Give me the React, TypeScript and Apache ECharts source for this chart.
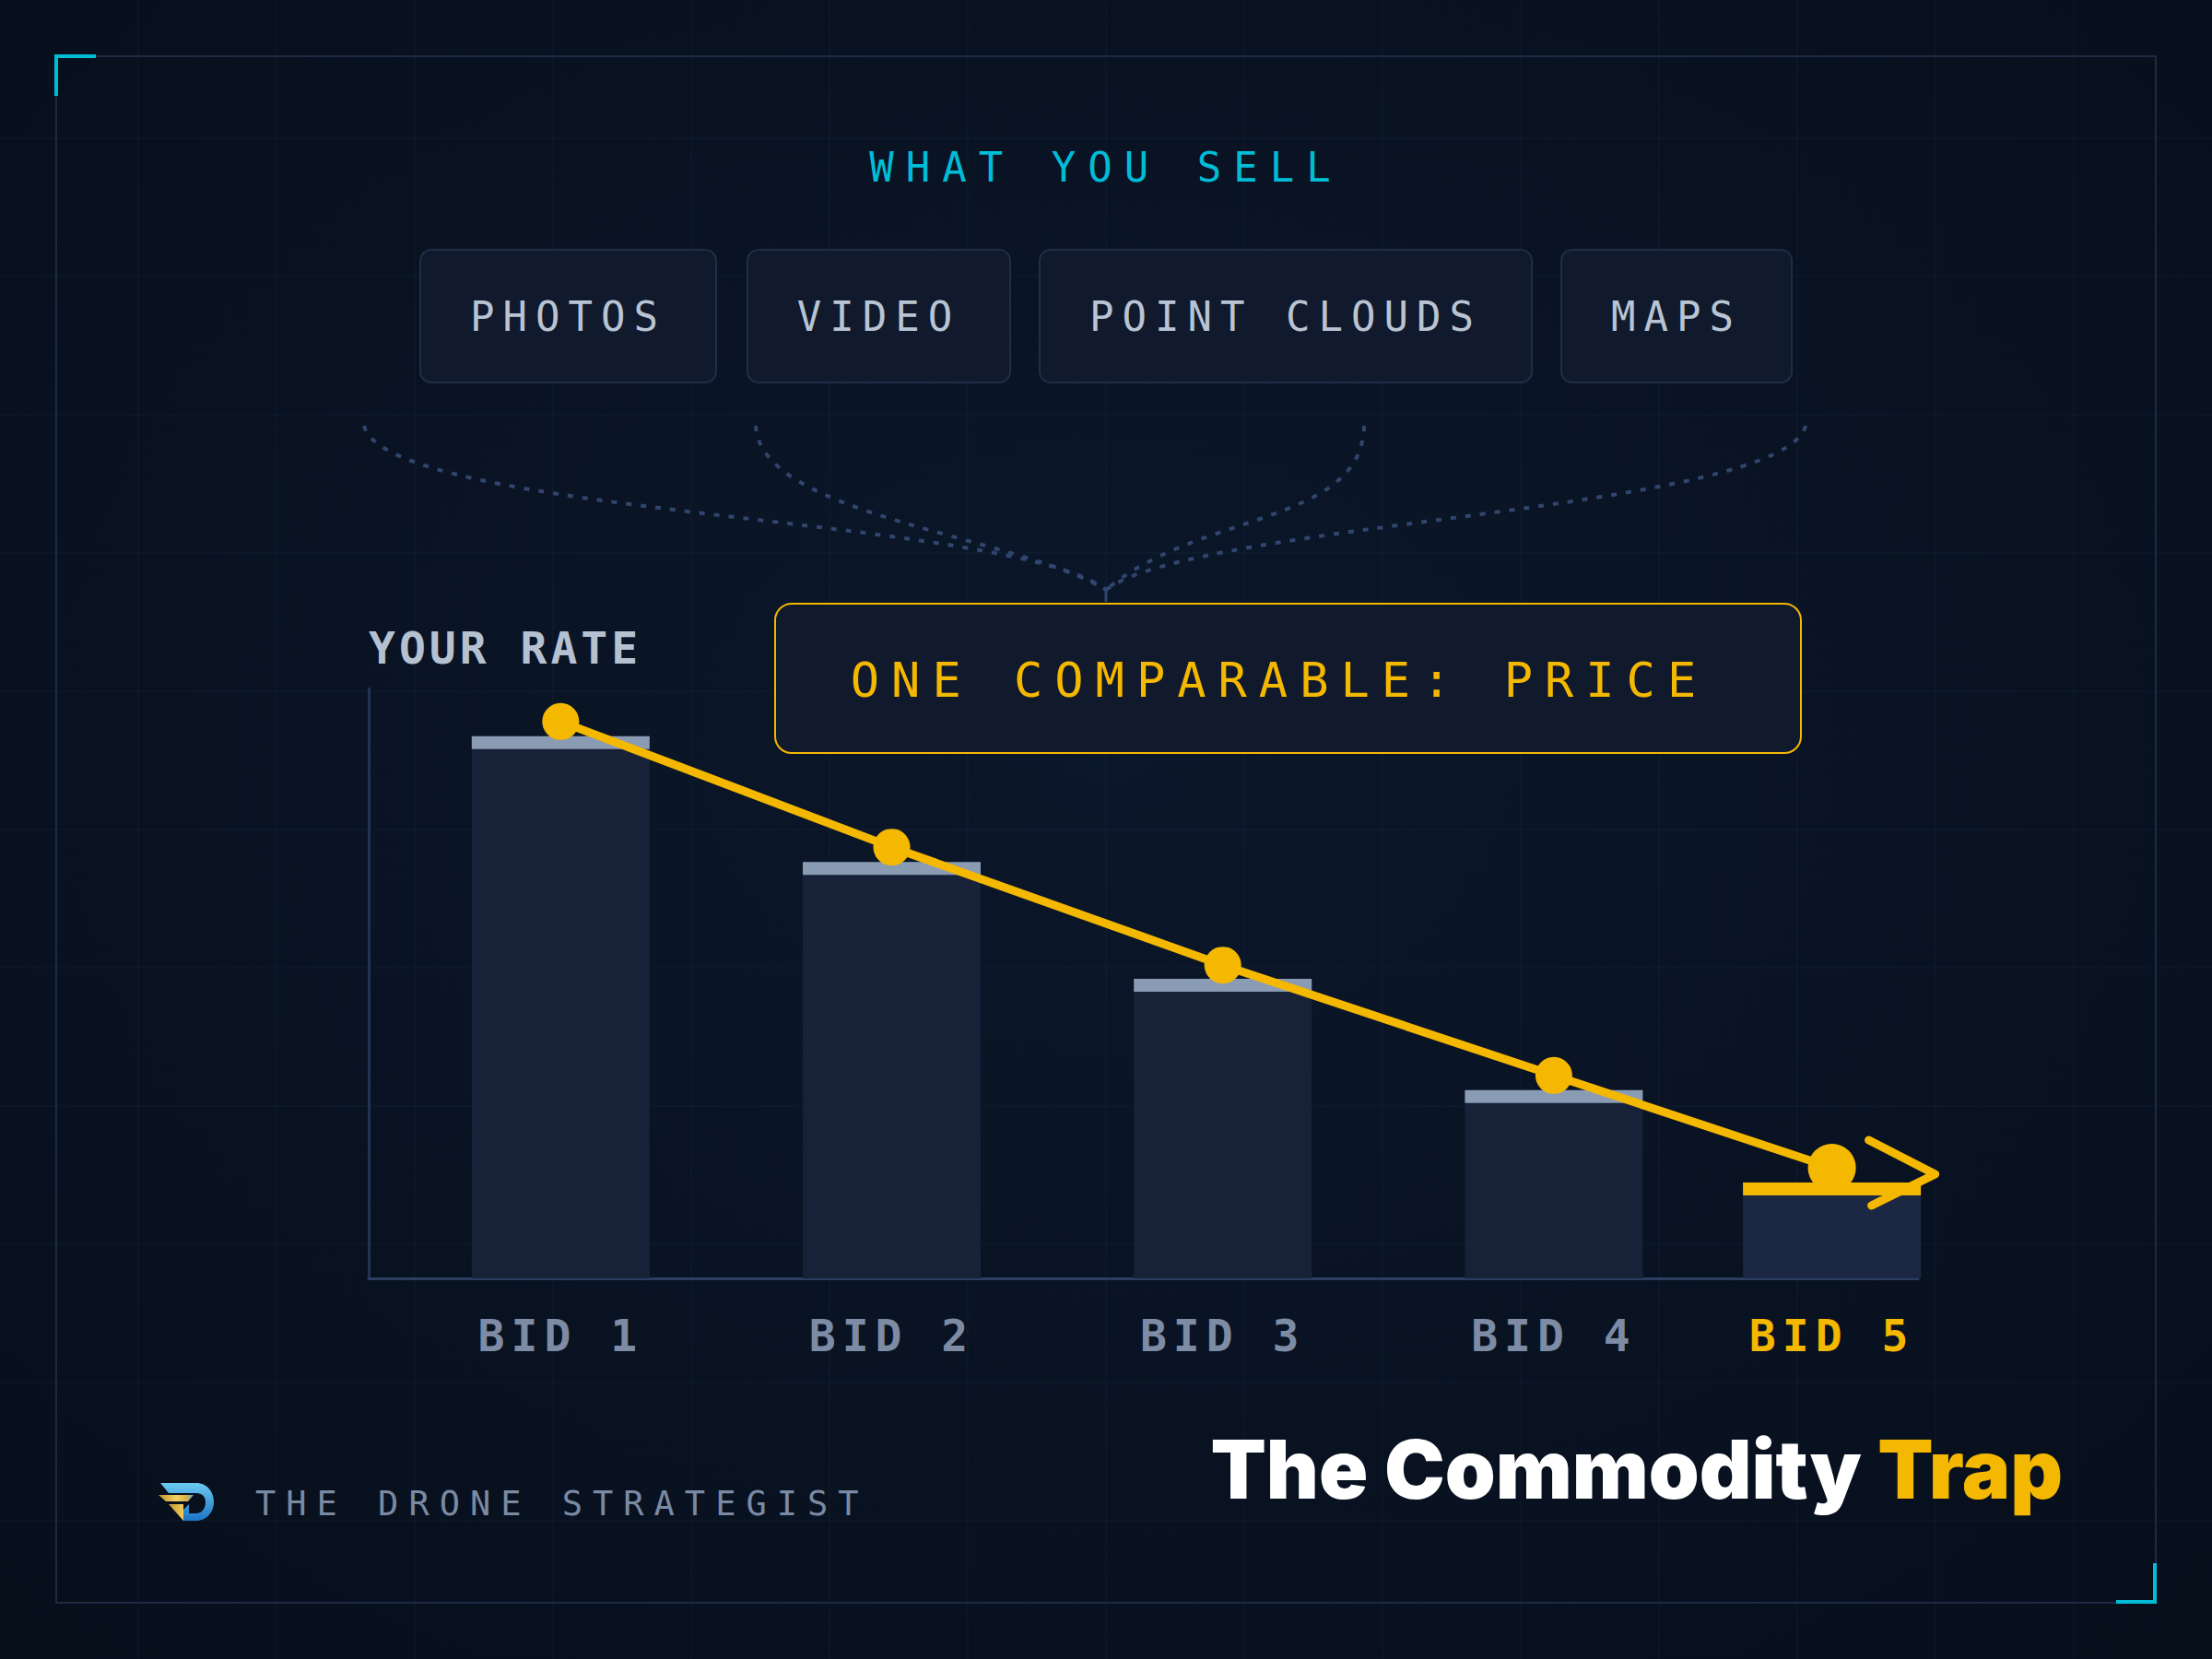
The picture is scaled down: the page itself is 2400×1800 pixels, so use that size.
import React, { useEffect, useRef } from "react";
import * as echarts from "echarts";

// ---------- data ----------
const bidLabels = ["BID 1", "BID 2", "BID 3", "BID 4", "BID 5"];
const bidSlots = [1, 2, 3, 4, 4.84];
const rateValues = [91.9, 70.6, 50.8, 31.9, 16.25];
const trendValues = [94.4, 73.1, 53.1, 34.4, 18.75];
const sellItems = ["PHOTOS", "VIDEO", "POINT CLOUDS", "MAPS"];
const headline = "WHAT YOU SELL";
const comparableLabel = "ONE COMPARABLE: PRICE";
const yAxisLabel = "YOUR RATE";
const brandName = "THE DRONE STRATEGIST";
const titleMain = "The Commodity";
const titleAccent = "Trap";

const MONO = '"DejaVu Sans Mono", monospace';
const YELLOW = "#f5b800";
const CYAN = "#00bcd6";

const letterSpacing: Record<string, number> = {
  [headline]: 13,
  [comparableLabel]: 13,
  [yAxisLabel]: 4,
  [brandName]: 11,
};
sellItems.forEach((s) => (letterSpacing[s] = 9));
bidLabels.forEach((s) => (letterSpacing[s] = 7));

let registered = false;
function registerLogo() {
  if (registered) return;
  registered = true;
  echarts.graphic.registerShape(
    "logoD",
    echarts.graphic.extendPath(
      "M2 0 L41 0 C52 0 60 9 60 20.5 C60 32 52 41 41 41 L27 41 L27 29 L33 23 L33 33 L41 33 C47 33 51 27.5 51 21 C51 14.5 47 11 41 11 L11 11 Z",
      {}
    )
  );
}

export default function App() {
  const ref = useRef<HTMLDivElement>(null);

  useEffect(() => {
    document.body.style.margin = "0";
    registerLogo();
    const el = ref.current!;
    const chart = echarts.init(el, null, { renderer: "svg" });

    const W = 2400;
    const H = 1800;
    const elements: any[] = [];

    // background
    elements.push({
      type: "rect",
      silent: true,
      shape: { x: 0, y: 0, width: W, height: H },
      style: {
        fill: new echarts.graphic.RadialGradient(0.5, 0.45, 0.8, [
          { offset: 0, color: "#0b172a" },
          { offset: 1, color: "#070e1a" },
        ]),
      },
    });
    // faint grid
    for (let x = 150; x < W; x += 150) {
      elements.push({
        type: "line",
        silent: true,
        shape: { x1: x, y1: 0, x2: x, y2: H },
        style: { stroke: "rgba(90,130,190,0.04)", lineWidth: 2 },
      });
    }
    for (let y = 150; y < H; y += 150) {
      elements.push({
        type: "line",
        silent: true,
        shape: { x1: 0, y1: y, x2: W, y2: y },
        style: { stroke: "rgba(90,130,190,0.04)", lineWidth: 2 },
      });
    }
    // frame
    elements.push({
      type: "rect",
      silent: true,
      shape: { x: 61, y: 61, width: 2278, height: 1678 },
      style: { fill: "none", stroke: "#1d2a43", lineWidth: 2 },
    });
    elements.push({
      type: "polyline",
      silent: true,
      shape: { points: [[61, 104], [61, 61], [104, 61]] },
      style: { stroke: CYAN, lineWidth: 4, fill: "none" },
    });
    elements.push({
      type: "polyline",
      silent: true,
      shape: { points: [[2338, 1696], [2338, 1738], [2296, 1738]] },
      style: { stroke: CYAN, lineWidth: 4, fill: "none" },
    });

    // headline
    elements.push({
      type: "text",
      silent: true,
      style: {
        text: headline,
        x: 1200,
        y: 181,
        fill: CYAN,
        fontFamily: MONO,
        fontSize: 44,
        align: "center",
        verticalAlign: "middle",
        textAlign: "center",
        textVerticalAlign: "middle",
      },
    });

    // chips
    const chipBoxes = [
      [456, 777],
      [811, 1096],
      [1128, 1662],
      [1694, 1944],
    ];
    sellItems.forEach((label, i) => {
      const [x0, x1] = chipBoxes[i];
      elements.push({
        type: "rect",
        silent: true,
        shape: { x: x0, y: 271, width: x1 - x0, height: 144, r: 12 },
        style: { fill: "#111a2c", stroke: "#1f2d47", lineWidth: 2 },
      });
      elements.push({
        type: "text",
        silent: true,
        style: {
          text: label,
          x: (x0 + x1) / 2,
          y: 343,
          fill: "#b8c4d4",
          fontFamily: MONO,
          fontSize: 44,
          align: "center",
          verticalAlign: "middle",
          textAlign: "center",
          textVerticalAlign: "middle",
        },
      });
    });

    // dotted converging curves
    const curves = [
      [395, 462, 420, 560, 1100, 560],
      [820, 462, 825, 560, 1100, 580],
      [1480, 462, 1478, 570, 1300, 555],
      [1959, 462, 1935, 555, 1300, 565],
    ];
    curves.forEach((c) => {
      elements.push({
        type: "bezierCurve",
        silent: true,
        shape: {
          x1: c[0],
          y1: c[1],
          cpx1: c[2],
          cpy1: c[3],
          cpx2: c[4],
          cpy2: c[5],
          x2: 1200,
          y2: 640,
        },
        style: { stroke: "#30466d", lineWidth: 4, lineDash: [6, 10], fill: "none" },
      });
    });
    elements.push({
      type: "line",
      silent: true,
      shape: { x1: 1200, y1: 640, x2: 1200, y2: 653 },
      style: { stroke: "#30466d", lineWidth: 3 },
    });

    // comparable box
    elements.push({
      type: "rect",
      silent: true,
      shape: { x: 841, y: 655, width: 1113, height: 162, r: 18 },
      style: { fill: "#111a2c", stroke: YELLOW, lineWidth: 2 },
    });
    elements.push({
      type: "text",
      silent: true,
      style: {
        text: comparableLabel,
        x: 1388,
        y: 738,
        fill: YELLOW,
        fontFamily: MONO,
        fontSize: 52,
        align: "center",
        verticalAlign: "middle",
        textAlign: "center",
        textVerticalAlign: "middle",
      },
    });

    // y label
    elements.push({
      type: "text",
      silent: true,
      style: {
        text: yAxisLabel,
        x: 400,
        y: 703,
        fill: "#b5c1d1",
        fontFamily: MONO,
        fontSize: 48,
        fontWeight: "bold",
        align: "left",
        verticalAlign: "middle",
        textAlign: "left",
        textVerticalAlign: "middle",
      },
    });

    // logo
    elements.push({
      type: "logoD",
      silent: true,
      x: 172,
      y: 1609,
      style: {
        fill: new echarts.graphic.LinearGradient(0, 0, 0, 1, [
          { offset: 0, color: "#6ccaf0" },
          { offset: 1, color: "#1b74c6" },
        ]),
      },
    });
    elements.push({
      type: "polygon",
      silent: true,
      shape: { points: [[172, 1622], [210, 1622], [204, 1629], [180, 1629]] },
      style: {
        fill: new echarts.graphic.LinearGradient(0, 0, 1, 0, [
          { offset: 0, color: "#c08f2a" },
          { offset: 0.5, color: "#f3d266" },
          { offset: 0.8, color: "#dcb04a" },
          { offset: 1, color: "#4aaee0" },
        ]),
      },
    });
    elements.push({
      type: "polygon",
      silent: true,
      shape: { points: [[183, 1632], [199, 1632], [199, 1650]] },
      style: {
        fill: new echarts.graphic.LinearGradient(0, 0, 1, 0, [
          { offset: 0, color: "#c8962c" },
          { offset: 1, color: "#f0cc5c" },
        ]),
      },
    });
    elements.push({
      type: "text",
      silent: true,
      style: {
        text: brandName,
        x: 277,
        y: 1631,
        fill: "#7a8aa2",
        fontFamily: MONO,
        fontSize: 37,
        align: "left",
        verticalAlign: "middle",
        textAlign: "left",
        textVerticalAlign: "middle",
      },
    });

    // title
    elements.push({
      type: "text",
      silent: true,
      style: {
        text: `{w|${titleMain} }{y|${titleAccent}}`,
        x: 2238,
        y: 1594,
        align: "right",
        verticalAlign: "middle",
        textAlign: "right",
        textVerticalAlign: "middle",
        fontFamily: "Inter",
        fontSize: 88,
        fontWeight: 900,
        rich: {
          w: { fill: "#ffffff", color: "#ffffff", fontFamily: "Inter", fontSize: 88, fontWeight: 900 },
          y: { fill: YELLOW, color: YELLOW, fontFamily: "Inter", fontSize: 88, fontWeight: 900 },
        },
      },
    });

    const barData = rateValues.map((v, i) => ({
      value: [bidSlots[i], v],
      name: bidLabels[i],
      itemStyle: { color: i === 4 ? "#1c2843" : "#172239" },
      label: { color: i === 4 ? YELLOW : "#7d8ca4" },
    }));
    const capData = rateValues.map((v, i) => ({
      value: [bidSlots[i], v],
      itemStyle: { color: i === 4 ? YELLOW : "#8a9bb4", opacity: 1 },
    }));
    const lineData = trendValues.map((v, i) => [bidSlots[i], v]);

    const option: any = {
      animation: false,
      backgroundColor: "transparent",
      grid: { left: 400, right: 319, top: 747, bottom: 413, containLabel: false },
      xAxis: {
        type: "value",
        min: 0.42,
        max: 5.1,
        axisLine: { show: true, onZero: false, lineStyle: { color: "#2b3e62", width: 3 } },
        axisTick: { show: false },
        axisLabel: { show: false },
        splitLine: { show: false },
      },
      yAxis: {
        type: "value",
        min: 0,
        max: 100,
        axisLine: { show: true, onZero: false, lineStyle: { color: "#223356", width: 3 } },
        axisTick: { show: false },
        axisLabel: { show: false },
        splitLine: { show: false },
      },
      graphic: { elements },
      series: [
        {
          type: "bar",
          silent: true,
          barWidth: 193,
          data: barData,
          z: 2,
          label: {
            show: true,
            position: "bottom",
            distance: 38,
            formatter: (p: any) => p.name,
            fontFamily: MONO,
            fontSize: 48,
            fontWeight: "bold",
          },
        },
        {
          type: "scatter",
          silent: true,
          symbol: "rect",
          symbolSize: [193, 14],
          symbolOffset: [0, 7],
          data: capData,
          itemStyle: { opacity: 1 },
          z: 3,
        },
        {
          type: "line",
          silent: true,
          data: lineData,
          z: 4,
          symbol: "circle",
          symbolSize: (_v: any, p: any) => (p.dataIndex === 4 ? 52 : 40),
          lineStyle: { color: YELLOW, width: 9 },
          itemStyle: { color: YELLOW, opacity: 1 },
        },
        {
          type: "custom",
          silent: true,
          clip: false,
          z: 5,
          data: [[bidSlots[4], trendValues[4]]],
          renderItem: (_params: any, api: any) => {
            const p = api.coord([api.value(0), api.value(1)]);
            return {
              type: "polyline",
              shape: {
                points: [
                  [p[0] + 40, p[1] - 30],
                  [p[0] + 112, p[1] + 7],
                  [p[0] + 43, p[1] + 41],
                ],
              },
              style: { stroke: YELLOW, lineWidth: 9, fill: "none", lineCap: "round", lineJoin: "round" },
            };
          },
        },
      ],
    };

    const applySpacing = () => {
      el.querySelectorAll("text").forEach((t) => {
        const key = (t.textContent || "").trim();
        const s = letterSpacing[key];
        if (s !== undefined) (t as SVGTextElement).style.letterSpacing = s + "px";
      });
    };

    chart.setOption(option);
    applySpacing();
    chart.on("finished", applySpacing);
    const raf = requestAnimationFrame(applySpacing);

    return () => {
      cancelAnimationFrame(raf);
      chart.dispose();
    };
  }, []);

  return <div ref={ref} style={{ width: 2400, height: 1800 }} />;
}
